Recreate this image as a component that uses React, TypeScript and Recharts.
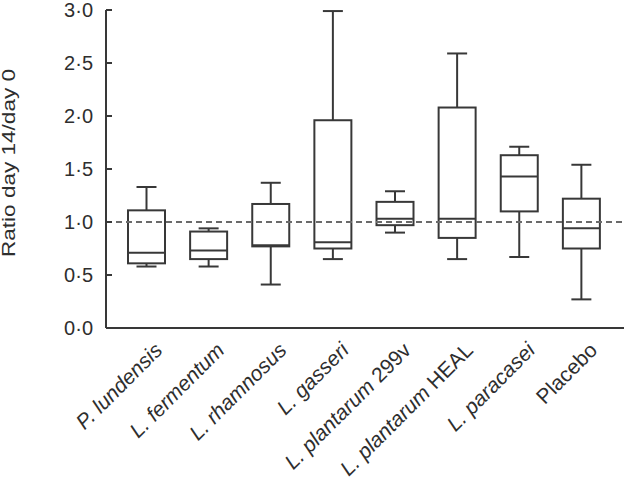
import { ComposedChart, Bar, XAxis, YAxis, ReferenceLine } from 'recharts';

const categories = [
  'P. lundensis',
  'L. fermentum',
  'L. rhamnosus',
  'L. gasseri',
  'L. plantarum 299v',
  'L. plantarum HEAL',
  'L. paracasei',
  'Placebo',
];
const mins = [0.58, 0.58, 0.41, 0.65, 0.9, 0.65, 0.67, 0.27];
const q1s = [0.61, 0.65, 0.77, 0.75, 0.97, 0.85, 1.1, 0.75];
const medians = [0.71, 0.73, 0.78, 0.81, 1.03, 1.03, 1.43, 0.94];
const q3s = [1.11, 0.91, 1.17, 1.96, 1.19, 2.08, 1.63, 1.22];
const maxs = [1.33, 0.94, 1.37, 2.99, 1.29, 2.59, 1.71, 1.54];
const yTicks = [0, 0.5, 1, 1.5, 2, 2.5, 3];

const data = categories.map((name, i) => ({
  name,
  min: mins[i],
  q1: q1s[i],
  median: medians[i],
  q3: q3s[i],
  max: maxs[i],
}));

const INK = '#383838';
const TEXT = '#2e2e2e';
const FONT = '"Liberation Sans", Arial, sans-serif';

const BoxShape = (props: any) => {
  const { x, y, width, height, payload } = props;
  const { min, q1, median, q3, max } = payload;
  // y/height come from the y scale for the [min, max] range
  const toPx = (v: number) => y + (height * (max - v)) / (max - min);
  const cx = x + width / 2;
  const cap = 10;
  return (
    <g stroke={INK} strokeWidth={2} fill="none">
      <line x1={cx} x2={cx} y1={toPx(max)} y2={toPx(q3)} />
      <line x1={cx} x2={cx} y1={toPx(q1)} y2={toPx(min)} />
      <line x1={cx - cap} x2={cx + cap} y1={toPx(max)} y2={toPx(max)} />
      <line x1={cx - cap} x2={cx + cap} y1={toPx(min)} y2={toPx(min)} />
      <rect
        x={x}
        y={toPx(q3)}
        width={width}
        height={toPx(q1) - toPx(q3)}
        fill="#fff"
      />
      <line x1={x} x2={x + width} y1={toPx(median)} y2={toPx(median)} />
    </g>
  );
};

const XTick = (props: any) => {
  const { x, y, payload } = props;
  const label: string = payload.value;
  const words = label.split(' ');
  const italic = label === 'Placebo' ? '' : words.slice(0, 2).join(' ');
  const rest = label === 'Placebo' ? label : words.slice(2).join(' ');
  const ax = x + 7;
  const ay = y + 5;
  return (
    <text
      x={ax}
      y={ay}
      dy="0.71em"
      textAnchor="end"
      transform={`rotate(-45, ${ax}, ${ay})`}
      fontFamily={FONT}
      fontSize={21}
      fill={TEXT}
    >
      {italic && <tspan fontStyle="italic">{italic}</tspan>}
      {rest && <tspan>{(italic ? ' ' : '') + rest}</tspan>}
    </text>
  );
};

const YTick = (props: any) => {
  const { x, y, payload } = props;
  return (
    <text
      x={x}
      y={y}
      dy="0.36em"
      textAnchor="end"
      fontFamily={FONT}
      fontSize={20}
      fill={TEXT}
    >
      {payload.value.toFixed(1).replace('.', '·')}
    </text>
  );
};

const YLabel = () => (
  <text
    x={15}
    y={163}
    transform="rotate(-90, 15, 163)"
    textAnchor="middle"
    fontFamily={FONT}
    fontSize={18}
    textLength={188}
    lengthAdjust="spacingAndGlyphs"
    fill={TEXT}
  >
    Ratio day 14/day 0
  </text>
);

export default function App() {
  return (
    <div style={{ position: 'absolute', left: 0, top: 0, background: '#fff' }}>
      <ComposedChart
        width={624}
        height={482}
        data={data}
        margin={{ top: 10, right: 0, left: 0, bottom: 0 }}
      >
        <XAxis
          dataKey="name"
          height={154}
          tickLine={false}
          axisLine={{ stroke: INK, strokeWidth: 2 }}
          padding={{ left: 9, right: 12 }}
          interval={0}
          tick={<XTick />}
        />
        <YAxis
          width={106}
          domain={[0, 3]}
          ticks={yTicks}
          interval={0}
          tickSize={-6}
          tickMargin={19}
          tickLine={{ stroke: INK, strokeWidth: 2 }}
          axisLine={{ stroke: INK, strokeWidth: 2 }}
          tick={<YTick />}
          label={{ content: <YLabel /> }}
        />
        <Bar
          dataKey={(d: any) => [d.min, d.max]}
          barSize={37}
          shape={<BoxShape />}
          isAnimationActive={false}
        />
        <ReferenceLine y={1} stroke="#6a6a6a" strokeWidth={2} strokeDasharray="6 4" />
      </ComposedChart>
    </div>
  );
}
